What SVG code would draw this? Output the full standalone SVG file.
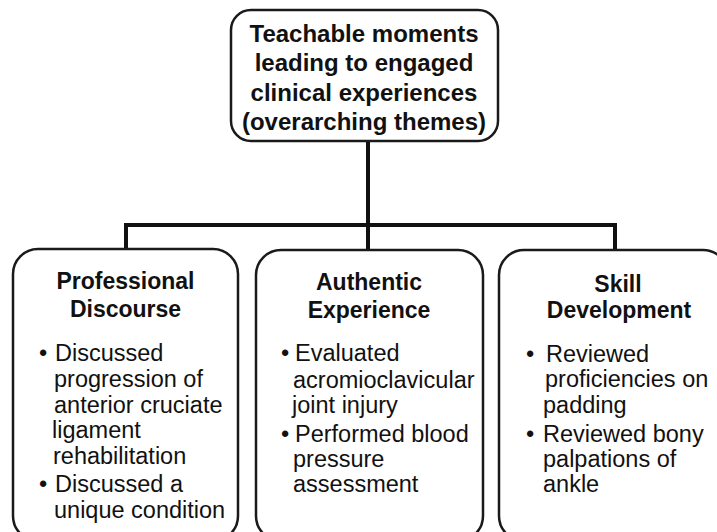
<svg xmlns="http://www.w3.org/2000/svg" width="717" height="532" viewBox="0 0 717 532">
  <style>
    .box { fill: #ffffff; stroke: #1a1a1a; stroke-width: 2.5; }
    .wire { fill: none; stroke: #111111; stroke-width: 4; }
    .title { font-family: "Liberation Sans", Arial, sans-serif; font-weight: bold; font-size: 24px; fill: #111111; text-anchor: middle; }
    .head { font-family: "Liberation Sans", Arial, sans-serif; font-weight: bold; font-size: 23px; fill: #111111; text-anchor: middle; }
    .item { font-family: "Liberation Sans", Arial, sans-serif; font-size: 23.5px; fill: #111111; }
  </style>
  <rect x="0" y="0" width="717" height="532" fill="#ffffff"/>

  <!-- tree connectors -->
  <g id="connectors">
    <line class="wire" x1="368" y1="141" x2="368" y2="225"/>
    <line class="wire" x1="124" y1="225" x2="617" y2="225"/>
    <line class="wire" x1="126" y1="223" x2="126" y2="249"/>
    <line class="wire" x1="368" y1="223" x2="368" y2="250"/>
    <line class="wire" x1="615" y1="223" x2="615" y2="250"/>
  </g>

  <!-- root theme -->
  <g id="root">
    <rect class="box" x="231" y="10" width="267" height="131" rx="20" ry="20"/>
    <text class="title" x="364" y="41.5">Teachable moments</text>
    <text class="title" x="364" y="71">leading to engaged</text>
    <text class="title" x="364" y="100.5">clinical experiences</text>
    <text class="title" x="364" y="130">(overarching themes)</text>
  </g>

  <!-- theme: professional discourse -->
  <g id="professional-discourse">
    <rect class="box" x="13" y="249" width="225" height="292" rx="25" ry="25"/>
    <text class="head" x="125.5" y="289">Professional</text>
    <text class="head" x="125.5" y="317">Discourse</text>
    <text class="item" x="39" y="361">•</text>
    <text class="item" x="55" y="361">Discussed</text>
    <text class="item" x="54" y="387">progression of</text>
    <text class="item" x="54" y="413">anterior cruciate</text>
    <text class="item" x="52" y="438">ligament</text>
    <text class="item" x="53" y="464">rehabilitation</text>
    <text class="item" x="39" y="492">•</text>
    <text class="item" x="55" y="492">Discussed a</text>
    <text class="item" x="54" y="518">unique condition</text>
  </g>

  <!-- theme: authentic experience -->
  <g id="authentic-experience">
    <rect class="box" x="256" y="250" width="227" height="291" rx="25" ry="25"/>
    <text class="head" x="369" y="290">Authentic</text>
    <text class="head" x="369" y="318">Experience</text>
    <text class="item" x="281" y="361">•</text>
    <text class="item" x="295" y="361">Evaluated</text>
    <text class="item" x="293" y="388">acromioclavicular</text>
    <text class="item" x="292" y="413">joint injury</text>
    <text class="item" x="281" y="442">•</text>
    <text class="item" x="295" y="442">Performed blood</text>
    <text class="item" x="293" y="467">pressure</text>
    <text class="item" x="293" y="492">assessment</text>
  </g>

  <!-- theme: skill development -->
  <g id="skill-development">
    <rect class="box" x="499" y="250" width="229" height="291" rx="25" ry="25"/>
    <text class="head" x="618" y="292">Skill</text>
    <text class="head" x="619" y="318">Development</text>
    <text class="item" x="526" y="362">•</text>
    <text class="item" x="546" y="362">Reviewed</text>
    <text class="item" x="545" y="387">proficiencies on</text>
    <text class="item" x="543" y="413">padding</text>
    <text class="item" x="526" y="442">•</text>
    <text class="item" x="543" y="442">Reviewed bony</text>
    <text class="item" x="543" y="467">palpations of</text>
    <text class="item" x="543" y="492">ankle</text>
  </g>
</svg>
